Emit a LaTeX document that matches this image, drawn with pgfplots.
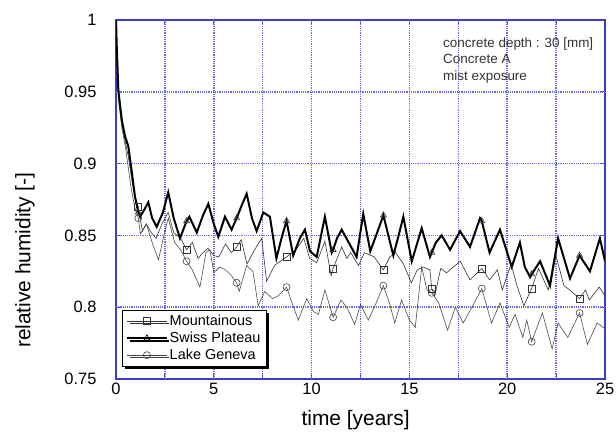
\documentclass[border=0pt]{standalone}
\usepackage{fontspec}
\setmainfont{Liberation Sans}
\usepackage{pgfplots}
\usepackage{pgfplotstable}
\pgfplotsset{compat=1.18}
\usetikzlibrary{shadows}

\definecolor{axblue}{RGB}{60,60,200}
\definecolor{gridblue}{RGB}{105,105,230}

% Mountainous
\pgfplotstableread{
t v
0.00 0.990
0.04 0.975
0.12 0.950
0.30 0.928
0.46 0.916
0.63 0.905
0.85 0.885
1.00 0.876
1.14 0.870
1.35 0.853
1.55 0.858
1.80 0.852
2.05 0.848
2.35 0.858
2.67 0.866
2.95 0.852
3.30 0.848
3.61 0.840
3.90 0.845
4.20 0.834
4.45 0.838
4.70 0.841
5.00 0.836
5.25 0.835
5.60 0.844
5.90 0.838
6.17 0.842
6.40 0.847
6.70 0.830
7.00 0.838
7.45 0.848
7.70 0.818
8.10 0.829
8.40 0.832
8.72 0.835
9.20 0.840
9.60 0.848
9.90 0.834
10.26 0.831
10.68 0.846
11.00 0.822
11.10 0.827
11.54 0.842
11.80 0.834
12.00 0.838
12.40 0.829
12.70 0.838
13.20 0.835
13.67 0.826
14.00 0.835
14.30 0.838
14.70 0.830
15.10 0.817
15.40 0.826
15.70 0.828
16.05 0.826
16.14 0.813
16.30 0.808
16.60 0.827
16.90 0.824
17.60 0.832
18.10 0.819
18.40 0.823
18.70 0.827
19.10 0.819
19.50 0.826
19.75 0.812
20.20 0.830
20.50 0.815
20.85 0.801
21.25 0.813
21.60 0.827
22.10 0.812
22.45 0.838
22.90 0.815
23.20 0.812
23.70 0.806
24.00 0.812
24.20 0.805
24.70 0.814
25.00 0.808
}\mountain

% Swiss Plateau
\pgfplotstableread{
t v
0.00 1.000
0.04 0.981
0.12 0.951
0.30 0.930
0.46 0.919
0.63 0.912
0.80 0.895
0.97 0.877
1.14 0.866
1.23 0.863
1.45 0.868
1.65 0.873
1.85 0.862
2.08 0.856
2.40 0.866
2.67 0.880
2.95 0.862
3.27 0.848
3.61 0.860
3.75 0.863
4.13 0.852
4.45 0.864
4.72 0.872
5.00 0.858
5.23 0.849
5.57 0.863
5.91 0.854
6.17 0.862
6.40 0.870
6.68 0.879
6.95 0.862
7.19 0.853
7.53 0.866
7.87 0.863
8.20 0.834
8.50 0.850
8.72 0.860
9.06 0.836
9.40 0.848
9.66 0.854
9.92 0.839
10.26 0.835
10.68 0.863
11.03 0.838
11.10 0.840
11.30 0.848
11.54 0.854
11.90 0.845
12.30 0.835
12.64 0.865
13.00 0.839
13.30 0.850
13.67 0.864
14.18 0.836
14.45 0.850
14.69 0.863
15.12 0.832
15.63 0.855
16.05 0.835
16.14 0.838
16.35 0.845
16.65 0.850
17.08 0.840
17.59 0.853
18.10 0.842
18.61 0.862
18.70 0.860
19.10 0.838
19.63 0.854
20.23 0.828
20.65 0.845
20.90 0.828
21.17 0.821
21.25 0.823
21.68 0.832
22.19 0.815
22.60 0.848
23.21 0.820
23.70 0.836
24.23 0.825
24.74 0.848
25.00 0.832
}\swiss

% Lake Geneva
\pgfplotstableread{
t v
0.00 0.985
0.04 0.968
0.12 0.945
0.30 0.925
0.50 0.910
0.75 0.885
0.95 0.870
1.14 0.862
1.25 0.851
1.55 0.858
1.85 0.845
2.17 0.833
2.45 0.850
2.67 0.862
3.00 0.845
3.30 0.840
3.61 0.832
3.90 0.826
4.29 0.814
4.60 0.838
4.80 0.840
5.00 0.824
5.30 0.828
5.60 0.826
5.90 0.822
6.17 0.817
6.30 0.811
6.68 0.829
7.00 0.825
7.27 0.801
7.60 0.811
8.00 0.806
8.30 0.808
8.72 0.814
9.00 0.803
9.32 0.791
9.75 0.806
10.09 0.797
10.35 0.795
10.68 0.812
11.10 0.793
11.50 0.805
11.80 0.800
12.20 0.788
12.50 0.802
12.90 0.791
13.30 0.803
13.67 0.815
14.00 0.802
14.25 0.789
14.60 0.805
15.00 0.791
15.30 0.786
15.63 0.828
15.90 0.812
16.14 0.810
16.50 0.803
16.95 0.784
17.35 0.800
17.75 0.789
18.20 0.800
18.70 0.813
19.20 0.789
19.63 0.803
20.10 0.786
20.40 0.795
20.80 0.779
21.00 0.791
21.25 0.776
21.80 0.796
22.30 0.771
22.60 0.789
23.10 0.779
23.70 0.796
24.10 0.774
24.60 0.789
25.00 0.785
}\geneva

\begin{document}
\begin{tikzpicture}
\useasboundingbox (-116bp,-58bp) rectangle (500bp,379bp);
\begin{axis}[
  scale only axis,
  width=489bp, height=359bp,
  xmin=0, xmax=25, ymin=0.75, ymax=1,
  xtick={0,5,10,15,20,25},
  minor xtick={2.5,7.5,12.5,17.5,22.5},
  ytick={0.75,0.8,0.85,0.9,0.95,1},
  yticklabels={0.75,0.8,0.85,0.9,0.95,1},
  grid=none,
  axis line style={axblue, line width=1.2bp},
  tick style={axblue, line width=0.8bp},
  tick align=inside,
  major tick length=4bp, minor tick length=4bp,
  /pgf/number format/assume math mode=true,
  ticklabel style={font=\fontsize{16.5}{18}\selectfont},
  yticklabel style={xshift=-16bp},
  xticklabel style={yshift=-1bp},
  xlabel={time [years]},
  ylabel={relative humidity [-]},
  label style={font=\fontsize{21}{24}\selectfont},
  xlabel style={at={(axis description cs:0.49,-0.115)}, anchor=center},
  ylabel style={at={(axis description cs:-0.186,0.331)}, anchor=center},
  legend style={at={(axis description cs:0.012,0.192)}, anchor=north west,
    draw=black, fill=white, font=\fontsize{14.5}{16}\selectfont,
    drop shadow={shadow xshift=2.5bp, shadow yshift=-2.5bp, fill=black, opacity=1},
    row sep=1bp, inner xsep=4bp, inner ysep=3bp},
  legend cell align=left,
  legend image code/.code={\draw[mark repeat=2,mark phase=2,#1]
    plot coordinates {(0cm,0cm) (0.7cm,0cm) (1.4cm,0cm)};},
]
% grid lines, dotted blue as in the original
\pgfplotsinvokeforeach{2.5,5,7.5,10,12.5,15,17.5,20,22.5}{
  \draw[gridblue, line width=1.6bp, dash pattern=on 1.2bp off 1bp]
    (axis cs:#1,0.75) -- (axis cs:#1,1);}
\pgfplotsinvokeforeach{0.8,0.85,0.9,0.95}{
  \draw[gridblue, line width=1.6bp, dash pattern=on 1.2bp off 1bp]
    (axis cs:0,#1) -- (axis cs:25,#1);}

\addplot[forget plot, black!70, line width=0.6pt] table[x=t,y=v] {\geneva};
\addplot[forget plot, black!80, line width=0.6pt] table[x=t,y=v] {\mountain};
\addplot[forget plot, black, line width=2pt] table[x=t,y=v] {\swiss};

\addplot[forget plot, only marks, mark=square, mark size=3.5bp,
  mark options={fill=white, draw=black!80, line width=0.6pt}] coordinates {
  (1.14,0.870) (3.61,0.840) (6.17,0.842) (8.72,0.835) (11.10,0.827)
  (13.67,0.826) (16.14,0.813) (18.70,0.827) (21.25,0.813) (23.70,0.806)};
\addplot[forget plot, only marks, mark=triangle, mark size=3.5bp,
  mark options={fill=white, draw=black!80, line width=0.6pt}] coordinates {
  (1.14,0.866) (3.61,0.860) (6.17,0.862) (8.72,0.860) (11.10,0.840)
  (13.67,0.864) (16.14,0.838) (18.70,0.860) (21.25,0.823) (23.70,0.836)};
\addplot[forget plot, only marks, mark=o, mark size=3.5bp,
  mark options={fill=white, draw=black!75, line width=0.6pt}] coordinates {
  (1.14,0.862) (3.61,0.832) (6.17,0.817) (8.72,0.814) (11.10,0.793)
  (13.67,0.815) (16.14,0.810) (18.70,0.813) (21.25,0.776) (23.70,0.796)};

\addlegendimage{black!80, line width=0.6pt, mark=square, mark size=3.5bp, mark options={fill=white, line width=0.6pt}}
\addlegendentry{Mountainous}
\addlegendimage{black, line width=2pt, mark=triangle, mark size=3.5bp, mark options={fill=white, line width=0.6pt}}
\addlegendentry{Swiss Plateau}
\addlegendimage{black!75, line width=0.6pt, mark=o, mark size=3.5bp, mark options={fill=white, line width=0.6pt}}
\addlegendentry{Lake Geneva}

\node[anchor=north west, align=left, inner sep=0pt, text=black!80,
  font=\fontsize{13.5}{16.7}\selectfont] at (axis cs:16.72,0.988)
  {concrete depth : 30 [mm]\\Concrete A\\mist exposure};
\end{axis}
\end{tikzpicture}
\end{document}
